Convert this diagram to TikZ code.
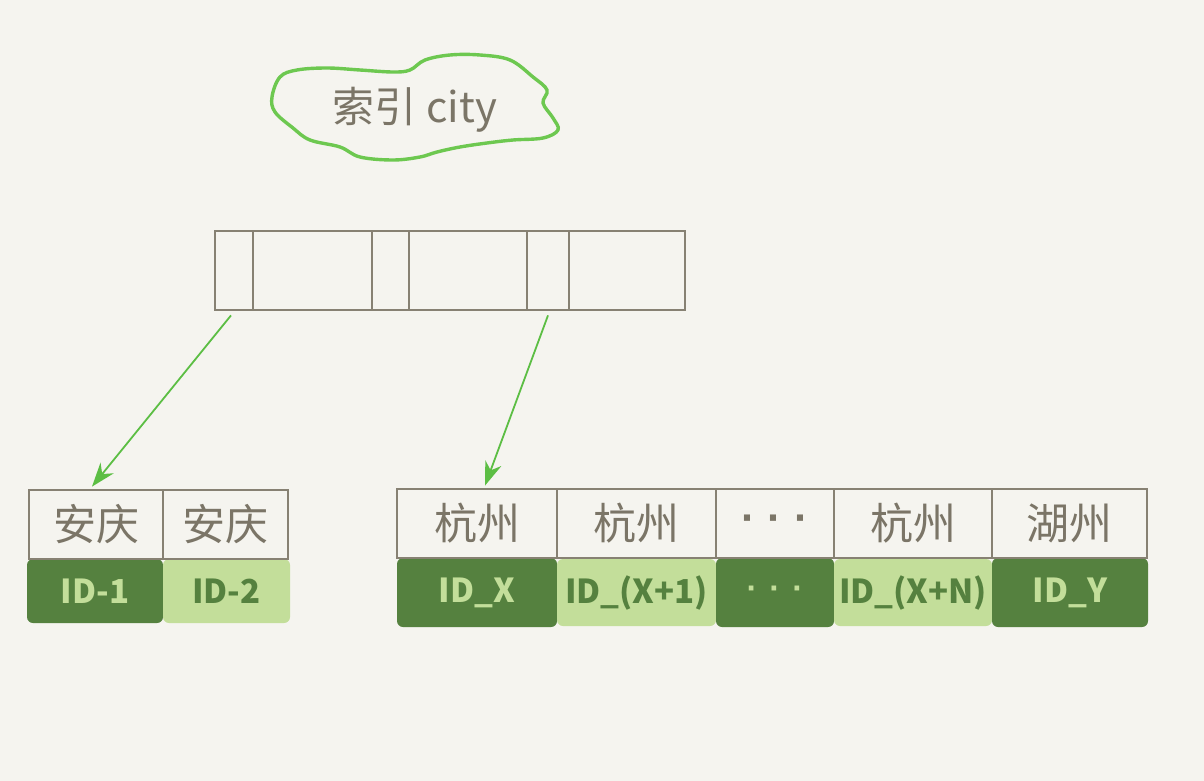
\documentclass[tikz,border=0pt]{standalone}
\usepackage{fontspec}
\setmainfont{Noto Sans CJK SC}
\newfontfamily\latfont{Liberation Sans}
\usetikzlibrary{arrows.meta}
\definecolor{bg}{HTML}{F5F4EF}
\definecolor{boxline}{HTML}{878173}
\definecolor{txt}{HTML}{7B7567}
\definecolor{dkg}{HTML}{55813F}
\definecolor{ltg}{HTML}{C3DE9A}
\definecolor{arrowg}{HTML}{5CBE44}
\definecolor{cloudg}{HTML}{6DC850}
\newcommand{\mydots}{{\latfont\bfseries ·\hspace{12pt}·\hspace{12pt}·}}
\tikzset{
  cell/.style={draw=boxline, line width=2.8pt, fill=bg, inner sep=0pt, text=txt,
    font=\fontsize{43}{46}\selectfont},
  idbase/.style={inner sep=0pt, rounded corners=6pt, font=\fontsize{33}{36}\selectfont\bfseries},
  iddark/.style={idbase, fill=dkg, text=ltg},
  idlight/.style={idbase, fill=ltg, text=dkg},
  link/.style={draw=arrowg, line width=1.8pt, -{Stealth[length=24pt,width=17pt]}},
}
\begin{document}
\begin{tikzpicture}[x=1pt,y=-1pt]
\useasboundingbox[fill=bg] (0,0) rectangle (1204,781);

% cloud
\draw[cloudg, line width=3.4pt, fill=bg] plot[smooth cycle, tension=0.6] coordinates {
(272,97) (280,77) (297,70) (327,68) (360,70) (393,72) (410,70) (425,60) (450,55)
(480,55) (510,60) (533,77) (547,90) (543,103) (553,118) (558,130) (543,138)
(513,140) (487,143) (460,147) (437,152) (420,157) (393,160) (360,157) (340,147)
(310,140) (293,128) (275,112)};
\node[text=txt, font=\fontsize{42}{46}\selectfont] (title) at (415,110) {索引 city};

% top node
\node[cell, minimum width=38pt, minimum height=79pt] (t1) at (234,270.5) {};
\node[cell, minimum width=119pt, minimum height=79pt] (t2) at (312.5,270.5) {};
\node[cell, minimum width=37pt, minimum height=79pt] (t3) at (390.5,270.5) {};
\node[cell, minimum width=118pt, minimum height=79pt] (t4) at (468,270.5) {};
\node[cell, minimum width=42pt, minimum height=79pt] (t5) at (548,270.5) {};
\node[cell, minimum width=116pt, minimum height=79pt] (t6) at (627,270.5) {};

% left leaf
\node[iddark, minimum width=136pt, minimum height=64pt] (l1id) at (95,591) {ID-1};
\node[idlight, minimum width=127pt, minimum height=64pt] (l2id) at (226.5,591) {ID-2};
\node[cell, minimum width=134pt, minimum height=69pt] (l1) at (96,524.5) {安庆};
\node[cell, minimum width=125pt, minimum height=69pt] (l2) at (225.5,524.5) {安庆};

% right leaf
\node[iddark, minimum width=160pt, minimum height=69pt] (r1id) at (477,592.5) {ID\_X};
\node[idlight, minimum width=159pt, minimum height=67pt] (r2id) at (636.5,592.5) {ID\_(X+1)};
\node[iddark, minimum width=118pt, minimum height=69pt] (r3id) at (775,592.5) {\mydots};
\node[idlight, minimum width=158pt, minimum height=67pt] (r4id) at (913,592.5) {ID\_(X+N)};
\node[iddark, minimum width=156pt, minimum height=69pt] (r5id) at (1070,592.5) {ID\_Y};
\node[cell, minimum width=160pt, minimum height=69pt] (r1) at (477,523.5) {杭州};
\node[cell, minimum width=159pt, minimum height=69pt] (r2) at (636.5,523.5) {杭州};
\node[cell, minimum width=118pt, minimum height=69pt] (r3) at (775,523.5) {\mydots};
\node[cell, minimum width=158pt, minimum height=69pt] (r4) at (913,523.5) {杭州};
\node[cell, minimum width=155pt, minimum height=69pt] (r5) at (1069.5,523.5) {湖州};

% connectors
\draw[link] ([xshift=-3pt,yshift=-4pt]t1.south) -- ([xshift=-4pt,yshift=2pt]l1.north);
\draw[link] ([yshift=-4pt]t5.south) -- ([xshift=8pt,yshift=2pt]r1.north);
\end{tikzpicture}
\end{document}
